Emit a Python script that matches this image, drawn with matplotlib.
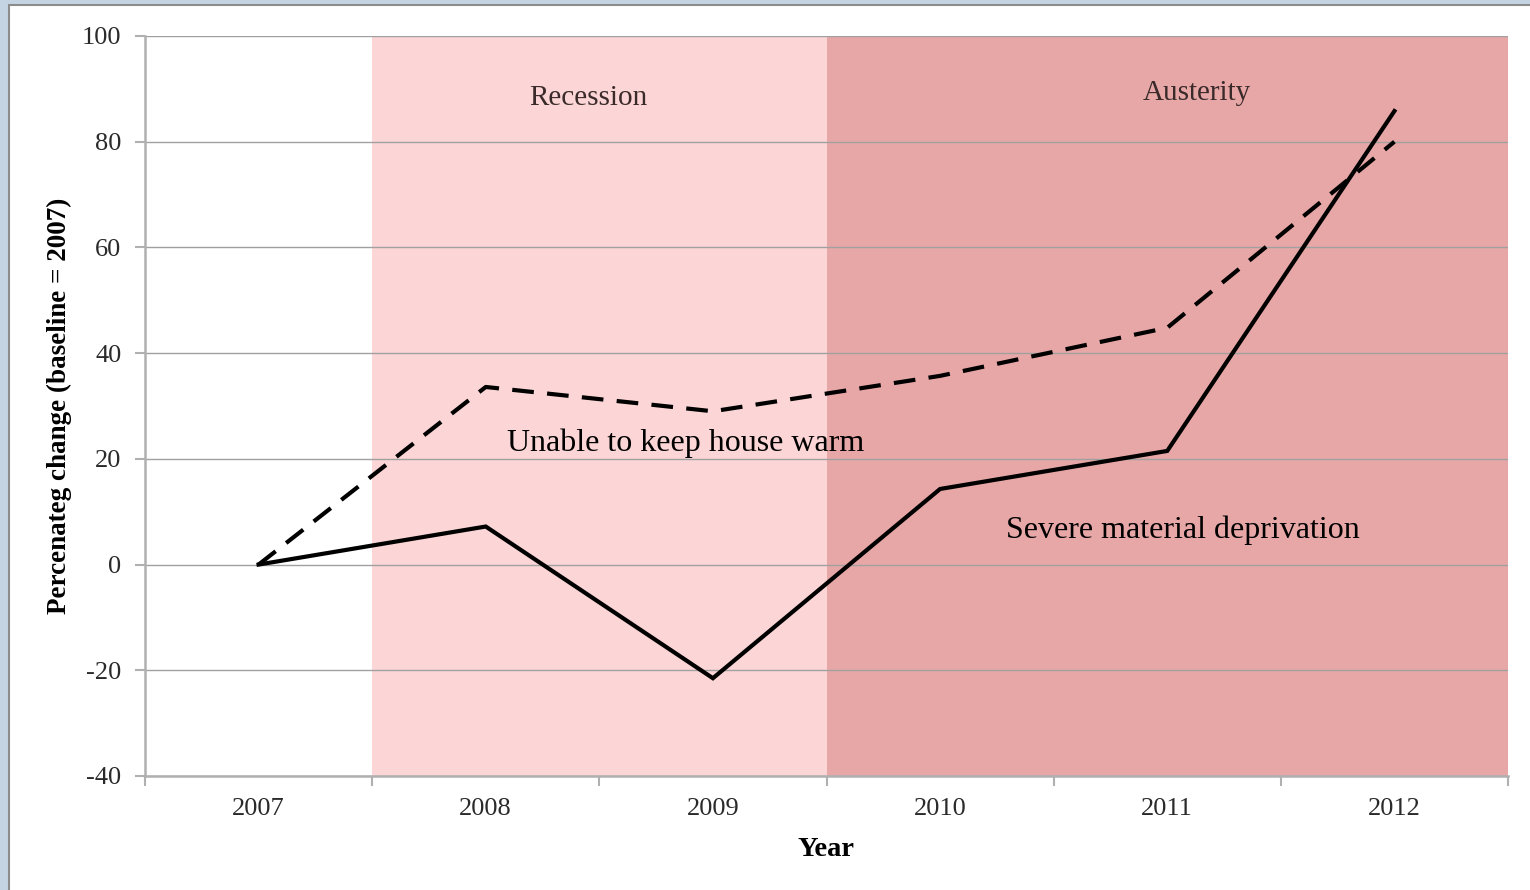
import matplotlib
matplotlib.use("Agg")
import matplotlib.pyplot as plt
from matplotlib.patches import Rectangle

years = ["2007", "2008", "2009", "2010", "2011", "2012"]
severe = [0, 7.2, -21.5, 14.3, 21.5, 85.8]
warm = [0, 33.6, 29.0, 35.7, 44.8, 80.0]
yticks = [-40, -20, 0, 20, 40, 60, 80, 100]

plt.rcParams['font.family'] = ['Liberation Serif', 'DejaVu Serif']

fig = plt.figure(figsize=(15.3, 8.9), dpi=100)
fig.patch.set_facecolor('white')
# frame
fig.patches.append(Rectangle((0, 0), 1, 1, transform=fig.transFigure,
                             facecolor='#c5d4e3', edgecolor='none', zorder=-10))
fig.patches.append(Rectangle((9/1530, -0.05), 1.05, (890-5)/890 + 0.05, transform=fig.transFigure,
                             facecolor='white', edgecolor='#8c8c8c', linewidth=1.5, zorder=-9))

ax = fig.add_axes([145/1530, 1-776/890, (1508-145)/1530, (776-36)/890])
x = list(range(len(years)))
ax.set_xlim(-0.5, len(years) - 0.5)
ax.set_ylim(-40, 100)

ax.axvspan(0.5, 2.5, color='#fcd6d6', zorder=0, linewidth=0)
ax.axvspan(2.5, 5.5, color='#e8a7a7', zorder=0, linewidth=0)

for yv in yticks:
    ax.axhline(yv, color='#a0a0a0', linewidth=1.0, zorder=1)

ax.plot(x, severe, color='black', linewidth=3, zorder=3, solid_joinstyle='miter')
ax.plot(x, warm, color='black', linewidth=3, zorder=3, linestyle=(0, (5.2, 3.2)))

ax.set_yticks(yticks)
ax.set_yticklabels([str(v) for v in yticks], fontsize=19, color='#2a2a2a')
ax.set_xticks(x)
ax.set_xticklabels(years, fontsize=19, color='#2a2a2a')
ax.set_xticks([i + 0.5 for i in range(-1, len(years))], minor=True)
ax.tick_params(axis='x', which='major', length=0, pad=16)
ax.tick_params(axis='x', which='minor', length=7, color='#b0b0b0', direction='out', width=1.5)
ax.tick_params(axis='y', length=7, color='#b0b0b0', direction='out', pad=10, width=1.5)

for side in ['top', 'right']:
    ax.spines[side].set_visible(False)
ax.spines['left'].set_color('#b0b0b0')
ax.spines['bottom'].set_color('#b0b0b0')
ax.spines['left'].set_linewidth(1.8)
ax.spines['bottom'].set_linewidth(1.8)

ax.set_xlabel("Year", fontsize=20.5, fontweight='bold', labelpad=12)
ax.set_ylabel("Percenateg change (baseline = 2007)", fontsize=19.5, fontweight='bold')
ax.yaxis.set_label_coords((72 - 145) / 1363, 0.5)

ax.text(1.45, 88.2, "Recession", fontsize=21, ha='center', va='center', color='#3a2a2a')
ax.text(4.13, 89.2, "Austerity", fontsize=21, ha='center', va='center', color='#3a2a2a')
ax.text(1.88, 23.0, "Unable to keep house warm", fontsize=23, ha='center', va='center', color='black')
ax.text(4.07, 6.5, "Severe material deprivation", fontsize=23, ha='center', va='center', color='black')

fig.savefig("out.png", dpi=100, facecolor=fig.get_facecolor())
